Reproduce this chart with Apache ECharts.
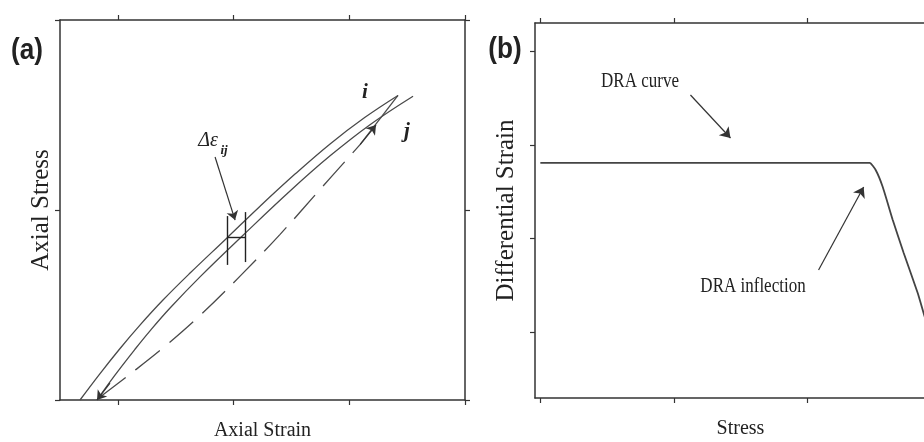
<!DOCTYPE html>
<html><head><meta charset="utf-8">
<script src="https://cdn.jsdelivr.net/npm/echarts@6/dist/echarts.min.js"></script>
<style>html,body{margin:0;padding:0;background:#fff}#c{width:924px;height:442px}</style>
</head><body><div id="c"></div>
<script>
// ---------- Panel (a): Axial Stress vs Axial Strain ----------
const aStrainTicks = [0.5, 1.5, 2.5, 3.5];
const aStressTicks = [0, 1, 2];
// loading curve i
const curveI = [[0.173,0],[0.346,0.139],[0.519,0.271],[0.691,0.394],[0.890,0.526],[1.124,0.668],
  [1.443,0.853],[1.729,1.020],[2.031,1.189],[2.334,1.348],[2.636,1.488],[2.921,1.603]];
// curve j (solid)
const curveJ = [[0.320,0],[0.475,0.131],[0.648,0.267],[0.778,0.364],[0.951,0.484],[1.210,0.648],
  [1.582,0.867],[1.988,1.100],[2.334,1.285],[2.679,1.449],[3.051,1.599]];
// dashed reloading path
const curveDash = [[0.346,0.016],[0.605,0.136],[0.908,0.283],[1.210,0.445],[1.556,0.652],
  [1.902,0.872],[2.247,1.108],[2.593,1.344]];
// short solid link to the peak of curve i
const curveLink = [[2.593,1.344],[2.921,1.603]];
// Δε_ij bracket (strain offset between i and j)
const bracketLeft = [[1.443,0.968],[1.443,0.711]];
const bracketRight = [[1.599,0.989],[1.599,0.726]];
const bracketBar = [[1.443,0.858],[1.599,0.858]];
const deltaArrow = [[1.340,1.279],[1.513,0.947]];

// ---------- Panel (b): Differential Strain vs Stress ----------
const bStressTicks = [0, 1, 2, 3];
const bDiffTicks = [0, 1, 2, 3];
const draCurve = [[0,1.807],[2.468,1.807],[2.513,1.732],[2.566,1.551],[2.641,1.199],
  [2.723,0.847],[2.828,0.420],[2.881,0.164],[2.963,-0.209]];
const draCurveArrow = [[1.125,2.532],[1.425,2.073]];
const draInflectionArrow = [[2.085,0.666],[2.423,1.551]];

const INK = '#333';
const LINE = '#4a4a4a';
const SERIF = '"Liberation Serif","Times New Roman",serif';

function axisBase(extra) {
  return Object.assign({
    type: 'value',
    axisLine: { show: true, onZero: false, lineStyle: { color: INK, width: 1.5 } },
    axisLabel: { show: false },
    splitLine: { show: false }
  }, extra);
}
function tickOpts(vals) {
  return { show: true, length: 5, customValues: vals, lineStyle: { color: INK, width: 1.2 } };
}
function arrowML(seg) {
  return {
    silent: true, symbol: ['none', 'arrow'], symbolSize: 9,
    label: { show: false },
    lineStyle: { color: '#333', width: 1.2, type: 'solid' },
    data: [[{ coord: seg[0] }, { coord: seg[1] }]]
  };
}
const centerText = { align: 'center', verticalAlign: 'middle', textAlign: 'center', textVerticalAlign: 'middle', fill: '#222' };

const chart = echarts.init(document.getElementById('c'), null, { renderer: 'canvas' });
chart.setOption({
  animation: false,
  backgroundColor: '#fff',
  grid: [
    { left: 60, top: 20, width: 405, height: 380, containLabel: false, outerBoundsMode: 'none' },
    { left: 535, top: 23, width: 411, height: 375, containLabel: false, outerBoundsMode: 'none' }
  ],
  xAxis: [
    axisBase({ gridIndex: 0, min: 0, max: 3.5, position: 'bottom', axisTick: tickOpts(aStrainTicks),
      name: 'Axial Strain', nameLocation: 'middle', nameGap: 21,
      nameTextStyle: { fontFamily: SERIF, fontSize: 20, color: '#222' } }),
    axisBase({ gridIndex: 0, min: 0, max: 3.5, position: 'top', axisTick: tickOpts(aStrainTicks) }),
    axisBase({ gridIndex: 1, min: -0.04, max: 3.04, position: 'bottom', axisTick: tickOpts(bStressTicks),
      name: 'Stress', nameLocation: 'middle', nameGap: 21,
      nameTextStyle: { fontFamily: SERIF, fontSize: 20, color: '#222' } }),
    axisBase({ gridIndex: 1, min: -0.04, max: 3.04, position: 'top', axisTick: tickOpts(bStressTicks) })
  ],
  yAxis: [
    axisBase({ gridIndex: 0, min: 0, max: 2, position: 'left', axisTick: tickOpts(aStressTicks),
      name: 'Axial Stress', nameLocation: 'middle', nameGap: 6,
      nameTextStyle: { fontFamily: SERIF, fontSize: 25, color: '#222' } }),
    axisBase({ gridIndex: 0, min: 0, max: 2, position: 'right', axisTick: tickOpts(aStressTicks) }),
    axisBase({ gridIndex: 1, min: -0.7, max: 3.3, position: 'left', axisTick: tickOpts(bDiffTicks),
      name: 'Differential Strain', nameLocation: 'middle', nameGap: 16,
      nameTextStyle: { fontFamily: SERIF, fontSize: 25, color: '#222' } }),
    axisBase({ gridIndex: 1, min: -0.7, max: 3.3, position: 'right', axisTick: tickOpts(bDiffTicks) })
  ],
  series: [
    { type: 'line', name: 'i', xAxisIndex: 0, yAxisIndex: 0, data: curveI, smooth: 0.4,
      showSymbol: false, lineStyle: { color: LINE, width: 1.3 },
      markLine: arrowML(deltaArrow) },
    { type: 'line', name: 'j', xAxisIndex: 0, yAxisIndex: 0, data: curveJ, smooth: 0.4,
      showSymbol: false, lineStyle: { color: LINE, width: 1.3 },
      markLine: arrowML([[0.432, 0.089], curveJ[0]]) },
    { type: 'line', name: 'reload', xAxisIndex: 0, yAxisIndex: 0, data: curveDash, smooth: 0.4,
      showSymbol: false, lineStyle: { color: LINE, width: 1.3, type: [32, 12] } },
    { type: 'line', name: 'link', xAxisIndex: 0, yAxisIndex: 0, data: curveLink,
      showSymbol: false, lineStyle: { color: LINE, width: 1.3 },
      markLine: arrowML([curveLink[0], [2.731, 1.447]]) },
    { type: 'line', name: 'bracket', xAxisIndex: 0, yAxisIndex: 0, data: [],
      markLine: { silent: true, symbol: 'none', label: { show: false },
        lineStyle: { color: '#222', width: 1.4, type: 'solid' },
        data: [bracketLeft, bracketRight, bracketBar].map(s => [{ coord: s[0] }, { coord: s[1] }]) } },
    { type: 'line', name: 'DRA', xAxisIndex: 2, yAxisIndex: 2, data: draCurve, smooth: 0.15,
      showSymbol: false, lineStyle: { color: '#444', width: 1.8 } },
    { type: 'line', name: 'arrowsB', xAxisIndex: 2, yAxisIndex: 2, data: [],
      markLine: { silent: true, symbol: ['none', 'arrow'], symbolSize: 10, label: { show: false },
        lineStyle: { color: '#333', width: 1.2, type: 'solid' },
        data: [draCurveArrow, draInflectionArrow].map(s => [{ coord: s[0] }, { coord: s[1] }]) } }
  ],
  graphic: [
    { type: 'text', x: 27, y: 51, scaleX: 0.9, style: Object.assign({ text: '(a)', fontFamily: '"Liberation Sans Narrow","Liberation Sans",Arial,sans-serif',
      fontWeight: 'bold', fontSize: 29 }, centerText) },
    { type: 'text', x: 505, y: 50, scaleX: 0.9, style: Object.assign({ text: '(b)', fontFamily: '"Liberation Sans Narrow","Liberation Sans",Arial,sans-serif',
      fontWeight: 'bold', fontSize: 29 }, centerText) },
    { type: 'text', x: 365, y: 93, style: Object.assign({ text: 'i', fontFamily: SERIF, fontStyle: 'italic', fontWeight: 'bold', fontSize: 21 }, centerText) },
    { type: 'text', x: 407, y: 132, style: Object.assign({ text: 'j', fontFamily: SERIF, fontStyle: 'italic', fontWeight: 'bold', fontSize: 21 }, centerText) },
    { type: 'text', x: 208, y: 141, style: Object.assign({ text: 'Δε', fontFamily: SERIF, fontStyle: 'italic', fontSize: 20 }, centerText) },
    { type: 'text', x: 224, y: 151, style: Object.assign({ text: 'ij', fontFamily: SERIF, fontStyle: 'italic', fontWeight: 'bold', fontSize: 13 }, centerText) },
    { type: 'text', x: 640, y: 82, scaleY: 1.2, style: Object.assign({ text: 'DRA curve', fontFamily: SERIF, fontSize: 17 }, centerText) },
    { type: 'text', x: 753, y: 287, scaleY: 1.2, style: Object.assign({ text: 'DRA inflection', fontFamily: SERIF, fontSize: 17 }, centerText) }
  ]
});
</script>
</body></html>
